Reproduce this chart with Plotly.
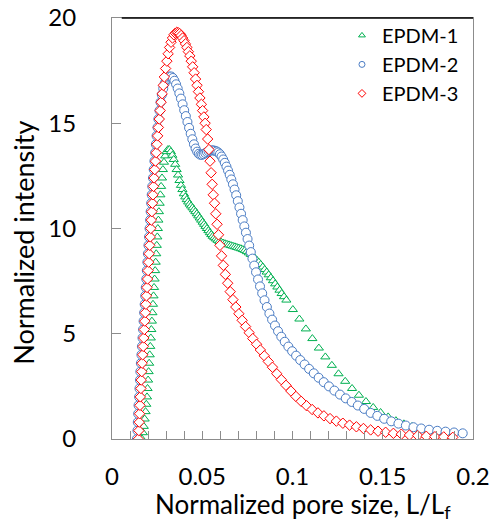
import plotly.graph_objects as go

# ---------------- data ----------------
series_names = ["EPDM-1", "EPDM-2", "EPDM-3"]

epdm1_x = [0.0166, 0.0171, 0.0176, 0.0181, 0.0186, 0.0190, 0.0194, 0.0197, 0.0200, 0.0203,
           0.0206, 0.0209, 0.0212, 0.0215, 0.0218, 0.0221, 0.0224, 0.0227, 0.0230, 0.0233,
           0.0236, 0.0239, 0.0242, 0.0245, 0.0248, 0.0251, 0.0254, 0.0257, 0.0260, 0.0264,
           0.0268, 0.0272, 0.0277, 0.0282, 0.0288, 0.0295, 0.0302, 0.0310, 0.0318, 0.0326,
           0.0334, 0.0342, 0.0350, 0.0358, 0.0366, 0.0374, 0.0382, 0.0390, 0.0398, 0.0406,
           0.0414, 0.0422, 0.0430, 0.0438, 0.0446, 0.0454, 0.0462, 0.0470, 0.0478, 0.0486,
           0.0494, 0.0502, 0.0510, 0.0518, 0.0526, 0.0534, 0.0542, 0.0550, 0.0558, 0.0567,
           0.0576, 0.0585, 0.0595, 0.0605, 0.0615, 0.0626, 0.0637, 0.0648, 0.0659, 0.0670,
           0.0681, 0.0692, 0.0703, 0.0714, 0.0725, 0.0736, 0.0747, 0.0758, 0.0769, 0.0780,
           0.0791, 0.0802, 0.0813, 0.0824, 0.0835, 0.0846, 0.0857, 0.0868, 0.0880, 0.0892,
           0.0904, 0.0916, 0.0928, 0.0940, 0.0953, 0.0966, 0.1002, 0.1038, 0.1074, 0.1110,
           0.1146, 0.1182, 0.1218, 0.1255, 0.1292, 0.1330, 0.1368, 0.1407, 0.1447, 0.1488,
           0.1530, 0.1573, 0.1617, 0.1662, 0.1708, 0.1755, 0.1803, 0.1852]
epdm1_y = [0.0, 0.3, 0.6, 0.95, 1.3, 1.65, 2.0, 2.4, 2.8, 3.2,
           3.6, 4.0, 4.4, 4.8, 5.2, 5.6, 6.0, 6.4, 6.8, 7.2,
           7.6, 8.0, 8.4, 8.8, 9.2, 9.6, 10.0, 10.4, 10.8, 11.2,
           11.6, 12.0, 12.4, 12.8, 13.15, 13.45, 13.65, 13.75, 13.75, 13.65,
           13.48, 13.28, 13.05, 12.8, 12.54, 12.28, 12.05, 11.85, 11.65, 11.5,
           11.37, 11.26, 11.16, 11.07, 10.98, 10.89, 10.8, 10.7, 10.6, 10.5,
           10.4, 10.3, 10.2, 10.1, 10.0, 9.9, 9.8, 9.71, 9.63, 9.56,
           9.5, 9.44, 9.39, 9.35, 9.31, 9.28, 9.25, 9.22, 9.19, 9.16,
           9.13, 9.1, 9.07, 9.04, 9.0, 8.96, 8.9, 8.84, 8.77, 8.69,
           8.6, 8.5, 8.4, 8.29, 8.17, 8.05, 7.93, 7.8, 7.66, 7.52,
           7.37, 7.22, 7.07, 6.91, 6.76, 6.6, 6.15, 5.7, 5.23, 4.77,
           4.32, 3.9, 3.5, 3.1, 2.74, 2.4, 2.08, 1.78, 1.5, 1.26,
           1.05, 0.87, 0.72, 0.59, 0.48, 0.38, 0.3, 0.23]

epdm2_x = [0.0138, 0.0141, 0.0143, 0.0145, 0.0147, 0.0150, 0.0152, 0.0155, 0.0157, 0.0160,
           0.0163, 0.0166, 0.0169, 0.0172, 0.0175, 0.0178, 0.0181, 0.0184, 0.0187, 0.0190,
           0.0193, 0.0196, 0.0199, 0.0202, 0.0205, 0.0208, 0.0211, 0.0214, 0.0217, 0.0220,
           0.0223, 0.0227, 0.0231, 0.0235, 0.0239, 0.0243, 0.0247, 0.0252, 0.0257, 0.0263,
           0.0269, 0.0276, 0.0284, 0.0292, 0.0301, 0.0310, 0.0319, 0.0328, 0.0337, 0.0346,
           0.0355, 0.0364, 0.0373, 0.0382, 0.0391, 0.0400, 0.0409, 0.0418, 0.0427, 0.0436,
           0.0445, 0.0454, 0.0463, 0.0472, 0.0481, 0.0490, 0.0499, 0.0508, 0.0517, 0.0526,
           0.0535, 0.0544, 0.0553, 0.0562, 0.0571, 0.0580, 0.0589, 0.0598, 0.0607, 0.0616,
           0.0625, 0.0634, 0.0643, 0.0652, 0.0661, 0.0670, 0.0679, 0.0688, 0.0697, 0.0706,
           0.0715, 0.0724, 0.0733, 0.0742, 0.0751, 0.0760, 0.0769, 0.0778, 0.0788, 0.0798,
           0.0809, 0.0820, 0.0832, 0.0845, 0.0858, 0.0872, 0.0887, 0.0903, 0.0920, 0.0938,
           0.0957, 0.0977, 0.0998, 0.1020, 0.1043, 0.1067, 0.1092, 0.1118, 0.1145, 0.1173,
           0.1202, 0.1232, 0.1263, 0.1295, 0.1328, 0.1362, 0.1397, 0.1433, 0.1470, 0.1508,
           0.1547, 0.1587, 0.1628, 0.1670, 0.1713, 0.1757, 0.1802, 0.1848, 0.1895, 0.1943]
epdm2_y = [0.0, 0.4, 0.8, 1.2, 1.6, 2.0, 2.4, 2.8, 3.2, 3.6,
           4.0, 4.4, 4.8, 5.2, 5.6, 6.0, 6.4, 6.8, 7.2, 7.6,
           8.0, 8.4, 8.8, 9.2, 9.6, 10.0, 10.4, 10.8, 11.2, 11.6,
           12.0, 12.4, 12.8, 13.2, 13.6, 14.0, 14.4, 14.8, 15.2, 15.6,
           16.0, 16.35, 16.65, 16.9, 17.07, 17.17, 17.22, 17.22, 17.15, 17.02,
           16.85, 16.65, 16.42, 16.17, 15.9, 15.62, 15.34, 15.06, 14.78, 14.5,
           14.24, 14.0, 13.8, 13.65, 13.55, 13.5, 13.5, 13.53, 13.58, 13.63,
           13.67, 13.7, 13.71, 13.71, 13.69, 13.66, 13.61, 13.53, 13.42, 13.28,
           13.12, 12.94, 12.75, 12.55, 12.33, 12.1, 11.85, 11.58, 11.3, 11.0,
           10.7, 10.4, 10.1, 9.8, 9.5, 9.19, 8.88, 8.57, 8.24, 7.92,
           7.58, 7.25, 6.92, 6.59, 6.27, 5.96, 5.67, 5.39, 5.12, 4.86,
           4.62, 4.39, 4.17, 3.96, 3.75, 3.54, 3.33, 3.12, 2.91, 2.7,
           2.5, 2.3, 2.11, 1.93, 1.76, 1.59, 1.43, 1.24, 1.1, 0.96,
           0.84, 0.73, 0.64, 0.56, 0.5, 0.44, 0.39, 0.35, 0.31, 0.27]

epdm3_x = [0.0146, 0.0149, 0.0151, 0.0153, 0.0155, 0.0157, 0.0160, 0.0162, 0.0165, 0.0167,
           0.0170, 0.0173, 0.0176, 0.0179, 0.0182, 0.0185, 0.0188, 0.0191, 0.0194, 0.0197,
           0.0200, 0.0203, 0.0206, 0.0209, 0.0212, 0.0215, 0.0218, 0.0221, 0.0224, 0.0227,
           0.0230, 0.0233, 0.0237, 0.0241, 0.0245, 0.0249, 0.0253, 0.0257, 0.0262, 0.0267,
           0.0272, 0.0278, 0.0284, 0.0290, 0.0297, 0.0304, 0.0311, 0.0319, 0.0327, 0.0335,
           0.0343, 0.0351, 0.0359, 0.0367, 0.0375, 0.0383, 0.0391, 0.0399, 0.0407, 0.0415,
           0.0423, 0.0431, 0.0439, 0.0447, 0.0455, 0.0463, 0.0471, 0.0479, 0.0487, 0.0495,
           0.0502, 0.0509, 0.0516, 0.0522, 0.0530, 0.0537, 0.0543, 0.0549, 0.0555, 0.0561,
           0.0568, 0.0575, 0.0582, 0.0590, 0.0598, 0.0607, 0.0617, 0.0628, 0.0641, 0.0655,
           0.0670, 0.0686, 0.0703, 0.0721, 0.0740, 0.0760, 0.0780, 0.0801, 0.0822, 0.0844,
           0.0866, 0.0889, 0.0913, 0.0938, 0.0964, 0.0991, 0.1019, 0.1048, 0.1078, 0.1109,
           0.1141, 0.1174, 0.1208, 0.1243, 0.1279, 0.1316, 0.1354, 0.1393, 0.1433, 0.1474,
           0.1516, 0.1559, 0.1603, 0.1648, 0.1694, 0.1741, 0.1789, 0.1838, 0.1888]
epdm3_y = [0.0, 0.4, 0.8, 1.2, 1.6, 2.0, 2.4, 2.8, 3.2, 3.6,
           4.0, 4.4, 4.8, 5.2, 5.6, 6.0, 6.4, 6.8, 7.2, 7.6,
           8.0, 8.4, 8.8, 9.2, 9.6, 10.0, 10.4, 10.8, 11.2, 11.6,
           12.0, 12.4, 12.8, 13.2, 13.6, 14.0, 14.4, 14.8, 15.2, 15.6,
           16.0, 16.4, 16.8, 17.2, 17.6, 17.95, 18.3, 18.6, 18.85, 19.05,
           19.2, 19.28, 19.32, 19.3, 19.26, 19.17, 19.05, 18.92, 18.77, 18.6,
           18.4, 18.2, 17.95, 17.68, 17.4, 17.1, 16.8, 16.5, 16.2, 15.9,
           15.6, 15.3, 15.0, 14.7, 14.25, 13.75, 13.2, 12.65, 12.1, 11.6,
           11.2, 10.7, 10.2, 9.7, 9.2, 8.7, 8.25, 7.82, 7.4, 7.0,
           6.62, 6.27, 5.95, 5.64, 5.34, 5.05, 4.77, 4.5, 4.23, 3.95,
           3.68, 3.41, 3.1, 2.82, 2.55, 2.28, 2.02, 1.79, 1.58, 1.4,
           1.24, 1.1, 0.97, 0.85, 0.75, 0.66, 0.58, 0.5, 0.43, 0.37,
           0.32, 0.27, 0.23, 0.19, 0.16, 0.13, 0.11, 0.1, 0.08]

x_tickvals = [0, 0.05, 0.1, 0.15, 0.2]
x_ticktext = ["0", "0.05", "0.1", "0.15", "0.2"]
y_tickvals = [0, 5, 10, 15, 20]
y_ticktext = ["0", "5", "10", "15", "20"]
x_title = "Normalized pore size, L/L<sub>f</sub>"
y_title = "Normalized intensity"

# ---------------- styling ----------------
FONT = "Lato"
GRAY = "#8c8c8c"
colors = ["#00B050", "#4A7CC4", "#FF0000"]
symbols = ["triangle-up", "circle", "diamond"]
sizes = [8, 9, 8]

xs = [epdm1_x, epdm2_x, epdm3_x]
ys = [epdm1_y, epdm2_y, epdm3_y]

fig = go.Figure()
for name, x, y, c, s, sz in zip(series_names, xs, ys, colors, symbols, sizes):
    fig.add_trace(go.Scatter(
        x=x, y=y, mode="markers", name=name, showlegend=False,
        marker=dict(symbol=s, size=sz, color="white", line=dict(color=c, width=1)),
    ))
# legend entries with small symbols
for name, c, s in zip(series_names, colors, symbols):
    fig.add_trace(go.Scatter(
        x=[None], y=[None], mode="markers", name=name, showlegend=True,
        marker=dict(symbol=s, size=6, color="white", line=dict(color=c, width=1)),
    ))

fig.update_layout(
    width=494, height=525,
    margin=dict(l=112, r=21, t=18, b=86, autoexpand=False),
    paper_bgcolor="white", plot_bgcolor="white",
    font=dict(family=FONT, size=24, color="black"),
    showlegend=True,
    legend=dict(x=0.975, y=1.005, xanchor="right", yanchor="top",
                bgcolor="rgba(0,0,0,0)", font=dict(size=20, family=FONT),
                tracegroupgap=0, itemwidth=30),
    xaxis=dict(range=[0, 0.2], tickmode="array", tickvals=x_tickvals, ticktext=x_ticktext,
               ticks="inside", ticklen=8, tickcolor=GRAY, tickwidth=1,
               minor=dict(ticks="inside", ticklen=8, tickcolor=GRAY, dtick=0.01, showgrid=False),
               showline=True, linecolor=GRAY, linewidth=1, mirror=True,
               showgrid=False, zeroline=False, ticklabelstandoff=16, automargin=False,
               tickfont=dict(size=24, family=FONT)),
    yaxis=dict(range=[0, 20], tickmode="array", tickvals=y_tickvals, ticktext=y_ticktext,
               ticks="inside", ticklen=9, tickcolor=GRAY, tickwidth=1,
               showline=True, linecolor=GRAY, linewidth=1, mirror=True,
               showgrid=False, zeroline=False, ticklabelstandoff=30, automargin=False,
               tickfont=dict(size=24, family=FONT)),
)
# axis titles as annotations (placed like the reference)
fig.add_annotation(text=x_title, xref="paper", yref="paper", x=0.53, y=-0.1568,
                   xanchor="center", yanchor="middle", showarrow=False,
                   font=dict(size=26, family=FONT))
fig.add_annotation(text=y_title, xref="paper", yref="paper", x=-0.245, y=0.465,
                   xanchor="center", yanchor="middle", showarrow=False, textangle=-90,
                   font=dict(size=27, family=FONT))
# black top border of the plot area
fig.add_shape(type="line", xref="paper", yref="paper", x0=0.027, x1=1, y0=1, y1=1,
              line=dict(color="black", width=1.5))

fig.write_html("out.html", config={"displayModeBar": False},
               post_script="document.body.style.margin='0';")
